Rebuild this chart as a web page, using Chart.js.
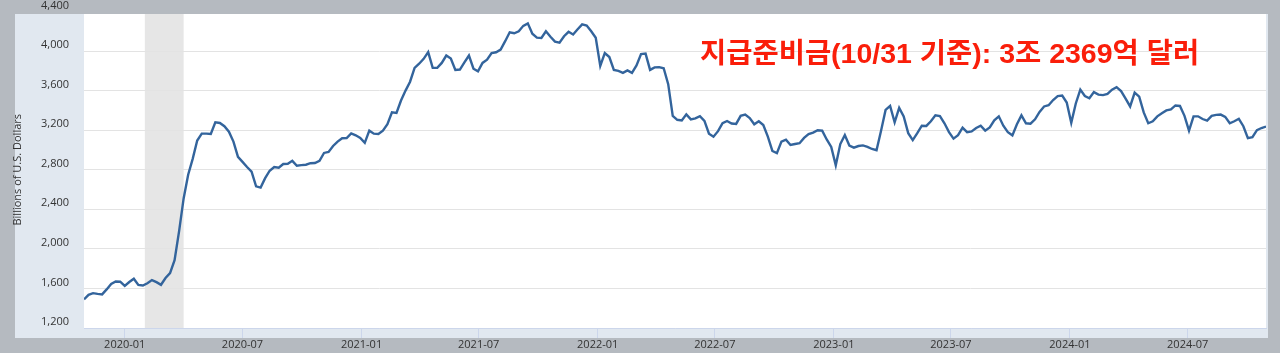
<!DOCTYPE html>
<html>
<head>
<meta charset="utf-8">
<script src="https://cdn.jsdelivr.net/npm/chart.js@4/dist/chart.umd.min.js"></script>
<style>
  html, body { margin: 0; padding: 0; background: #b5bac0; }
  canvas { display: block; }
</style>
</head>
<body>
<canvas id="chart" width="1280" height="353"></canvas>
<script>
// weekly reserve balances (Wednesday levels), billions of US$
const startDate = '2019-10-30';
const reserves = [
  1490, 1535, 1552, 1545, 1540, 1590, 1645, 1670, 1668, 1625,
  1665, 1698, 1635, 1630, 1652, 1684, 1664, 1637, 1705, 1755,
  1885, 2180, 2510, 2750, 2910, 3095, 3165, 3165, 3162, 3279,
  3273, 3240, 3185, 3085, 2930, 2880, 2828, 2780, 2632, 2620,
  2715, 2790, 2828, 2820, 2858, 2860, 2890, 2840, 2847, 2851,
  2866, 2868, 2891, 2970, 2980, 3040, 3085, 3118, 3121, 3168,
  3148, 3122, 3072, 3195, 3165, 3162, 3195, 3260, 3380, 3374,
  3500, 3600, 3690, 3830, 3872, 3921, 3990, 3830, 3830, 3880,
  3955, 3925, 3808, 3813, 3885, 3955, 3822, 3795, 3880, 3912,
  3980, 3988, 4015, 4100, 4190, 4180, 4200, 4255, 4280, 4175,
  4136, 4132, 4200, 4145, 4095, 4085, 4150, 4195, 4168, 4220,
  4270, 4258, 4200, 4135, 3850, 3980, 3940, 3810, 3800, 3780,
  3805, 3780, 3855, 3970, 3974, 3810, 3835, 3838, 3826, 3665,
  3345, 3305, 3298, 3360, 3310, 3320, 3342, 3295, 3165, 3134,
  3190, 3270, 3293, 3268, 3263, 3345, 3357, 3322, 3260, 3290,
  3252, 3135, 2990, 2968, 3085, 3104, 3050, 3060, 3068, 3122,
  3160, 3175, 3200, 3195, 3106, 3030, 2845, 3060, 3150, 3045,
  3024, 3040, 3046, 3032, 3010, 2998, 3195, 3405, 3445, 3280,
  3425, 3340, 3170, 3100, 3170, 3245, 3243, 3290, 3350, 3342,
  3270, 3180, 3115, 3150, 3225, 3180, 3188, 3222, 3245, 3195,
  3228, 3300, 3340, 3245, 3180, 3148, 3260, 3350, 3270, 3266,
  3310, 3385, 3440, 3452, 3505, 3545, 3550, 3480, 3275, 3470,
  3610, 3545, 3523, 3585, 3560, 3555, 3566, 3610, 3635, 3595,
  3520, 3440, 3580, 3540, 3380, 3270, 3290, 3340, 3372, 3400,
  3411, 3450, 3445, 3345, 3195, 3340, 3340, 3313, 3296, 3345,
  3355, 3358, 3335, 3270, 3290, 3315, 3240, 3120, 3130, 3200,
  3222, 3237
];
const tickLabels = ['2020-01', '2020-07', '2021-01', '2021-07', '2022-01',
  '2022-07', '2023-01', '2023-07', '2024-01', '2024-07'];
const yTicks = [1200, 1600, 2000, 2400, 2800, 3200, 3600, 4000, 4400];
const recession = ['2020-02-01', '2020-04-01'];
const axisTitle = 'Billions of U.S. Dollars';
const note = '지급준비금(10/31 기준): 3조 2369억 달러';

const DAY = 86400000;
const t = s => Date.parse(s.length === 7 ? s + '-01T00:00:00Z' : s + 'T00:00:00Z');
const t0 = t(startDate);
const points = reserves.map((v, i) => ({ x: t0 + i * 7 * DAY, y: v }));

const frame = {
  id: 'frame',
  beforeDraw(chart) {
    const { ctx, chartArea: a, scales: { x } } = chart;
    ctx.save();
    ctx.fillStyle = '#b5bac0';
    ctx.fillRect(0, 0, chart.width, chart.height);
    ctx.fillStyle = '#e1e8f0';
    ctx.fillRect(15, 14, a.right + 2 - 15, 338 - 14);
    ctx.fillStyle = '#ffffff';
    ctx.fillRect(a.left, 14, a.right - a.left, a.bottom - 14);
    const r0 = x.getPixelForValue(t(recession[0]));
    const r1 = x.getPixelForValue(t(recession[1]));
    ctx.fillStyle = '#e6e6e6';
    ctx.fillRect(r0, 14, r1 - r0, a.bottom - 14);
    ctx.restore();
  },
  afterDraw(chart) {
    const ctx = chart.ctx;
    ctx.save();
    ctx.font = 'bold 28.5px "Liberation Sans", "Noto Sans CJK KR", sans-serif';
    ctx.fillStyle = '#fa1e0a';
    ctx.textBaseline = 'middle';
    ctx.fillText(note, 700, 55);
    ctx.restore();
  }
};

new Chart(document.getElementById('chart'), {
  type: 'line',
  data: {
    datasets: [{
      label: 'Reserve balances',
      data: points,
      borderColor: '#33649c',
      borderWidth: 2.4,
      pointRadius: 0,
      tension: 0,
      fill: false
    }]
  },
  options: {
    responsive: false,
    animation: false,
    devicePixelRatio: 1,
    layout: { padding: { top: 11.5, right: 14, left: 0, bottom: 0 } },
    plugins: { legend: { display: false }, tooltip: { enabled: false } },
    scales: {
      x: {
        type: 'linear',
        min: t0,
        max: t0 + (reserves.length - 1) * 7 * DAY,
        afterFit: s => { s.height = 25; s.paddingLeft = 0; s.paddingRight = 0; },
        afterBuildTicks: s => { s.ticks = tickLabels.map(l => ({ value: t(l) })); },
        grid: { drawOnChartArea: false, drawTicks: true, tickLength: 10, color: '#ccd6eb' },
        border: { display: true, color: '#ccd6eb' },
        ticks: {
          autoSkip: false,
          maxRotation: 0,
          padding: 0,
          color: '#333',
          font: { family: '"Open Sans", sans-serif', size: 11 },
          callback: v => tickLabels.find(l => t(l) === v)
        }
      },
      y: {
        min: 1200,
        max: 4400,
        afterFit: s => { s.width = 84; s.paddingTop = 0; s.paddingBottom = 0; },
        afterBuildTicks: s => { s.ticks = yTicks.map(v => ({ value: v })); },
        grid: {
          drawTicks: false,
          color: c => (c.tick && c.tick.value === 4400) ? 'rgba(0,0,0,0)' : '#e3e3e3'
        },
        border: { display: false },
        ticks: {
          padding: 15,
          labelOffset: -6,
          color: '#333',
          font: { family: '"Open Sans", sans-serif', size: 11 },
          callback: v => v.toLocaleString('en-US')
        },
        title: {
          display: true,
          text: axisTitle,
          color: '#333',
          font: { family: '"Open Sans", sans-serif', size: 11 },
          padding: { top: 11, bottom: 0 }
        }
      }
    }
  },
  plugins: [frame]
});
</script>
</body>
</html>
